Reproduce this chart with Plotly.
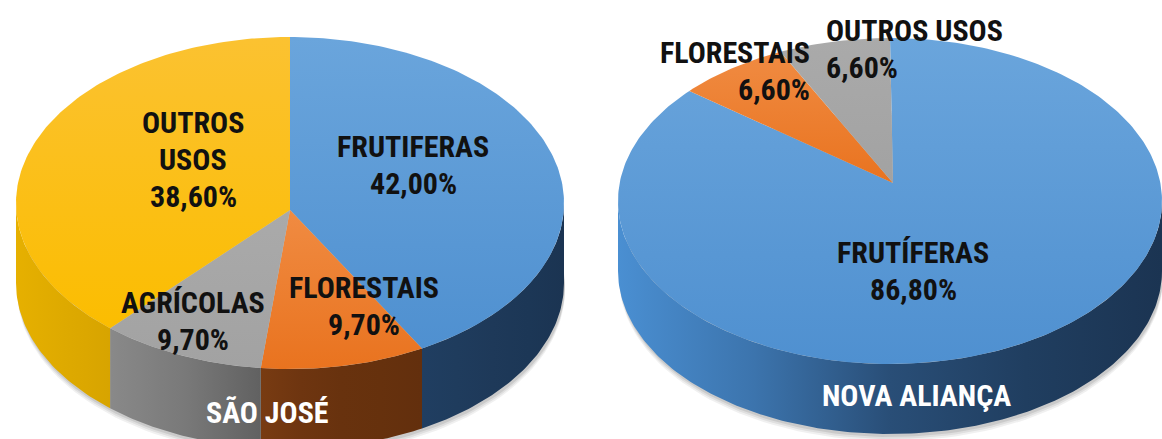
import math
import plotly.graph_objects as go

# ---------------- data ----------------
sj_labels = ["FRUTIFERAS", "FLORESTAIS", "AGRÍCOLAS", "OUTROS USOS"]
sj_values = [42.0, 9.7, 9.7, 38.6]
na_labels = ["FRUTÍFERAS", "FLORESTAIS", "OUTROS USOS"]
na_values = [86.8, 6.6, 6.6]
titles = ["SÃO JOSÉ", "NOVA ALIANÇA"]

# ---------------- styles ----------------
TOP = {"FRUTIFERAS": ("#6aa5dc", "#4f90d0"), "FRUTÍFERAS": ("#6aa5dc", "#4f90d0"),
       "FLORESTAIS": ("#f08b42", "#e9731f"), "AGRÍCOLAS": ("#aaaaaa", "#a2a2a2"),
       "OUTROS USOS": ("#fbc231", "#fbbd00")}
SIDE = {"FRUTIFERAS": ("#4a8fd2", "#1b3452"), "FRUTÍFERAS": ("#4a8fd2", "#1b3452"),
        "FLORESTAIS": ("#a85620", "#5a2a0a"), "AGRÍCOLAS": ("#9c9c9c", "#3c3c3c"),
        "OUTROS USOS": ("#e6b000", "#9a7400")}
SIDE_NA_OVERRIDE = {"OUTROS USOS": ("#9c9c9c", "#3c3c3c")}
TOP_NA_OVERRIDE = {"OUTROS USOS": ("#aaaaaa", "#a2a2a2")}

FONT = "Liberation Sans Narrow, Roboto Condensed, Arial Narrow, DejaVu Sans Condensed, sans-serif"
FSIZE = 30
LINE = 37

W, H = 1162, 439


def hex2rgb(h):
    h = h.lstrip("#")
    return tuple(int(h[i:i + 2], 16) for i in (0, 2, 4))


def mix(c0, c1, t):
    a, b = hex2rgb(c0), hex2rgb(c1)
    return "rgb(%d,%d,%d)" % tuple(round(a[i] + (b[i] - a[i]) * t) for i in range(3))


def darkness(f):
    pts = [(0, 0), (0.3, 0.35), (0.55, 0.8), (1, 1)]
    for (x0, y0), (x1, y1) in zip(pts, pts[1:]):
        if f <= x1:
            return y0 + (y1 - y0) * (f - x0) / (x1 - x0)
    return 1


def ell(g, th):
    r = math.radians(th)
    return g["cx"] + g["rx"] * math.sin(r), g["cy"] - g["ry"] * math.cos(r)


def arc(g, a, b, dy=0, n=None):
    n = n or max(4, int(abs(b - a)) + 1)
    xs, ys = [], []
    for i in range(n + 1):
        x, y = ell(g, a + (b - a) * i / n)
        xs.append(x)
        ys.append(y + dy)
    return xs, ys


fig = go.Figure()


def add_pie(labels, values, g, top_over=None, side_over=None):
    top_over = top_over or {}
    side_over = side_over or {}
    total = sum(values)
    bounds = []
    acc = 0
    for v in values:
        a = acc / total * 360
        acc += v
        bounds.append((a, acc / total * 360))
    # shadow
    for k, op in [(7, 0.06), (5, 0.07), (3, 0.09)]:
        xs, ys = arc(g, 0, 360, dy=g["depth"] + k, n=180)
        xs = [x + 1 for x in xs]
        fig.add_trace(go.Scatter(x=xs, y=ys, fill="toself", mode="lines", line=dict(width=0),
                                 fillcolor="rgba(0,0,0,%s)" % op, hoverinfo="skip", showlegend=False))
    # side walls (front half: 90..270 deg)
    for lab, (a, b) in zip(labels, bounds):
        s, e = max(a, 90), min(b, 270)
        if e <= s:
            continue
        light, dark = side_over.get(lab, SIDE[lab])
        xt, yt = arc(g, s, e)
        xb, yb = arc(g, s, e, dy=g["depth"])
        xs = xt + xb[::-1] + [xt[0]]
        ys = yt + yb[::-1] + [yt[0]]
        x0, x1 = min(xs), max(xs)
        left = g["cx"] - g["rx"]
        cs = []
        for t in (0, 0.25, 0.5, 0.75, 1):
            f = (x0 + (x1 - x0) * t - left) / (2 * g["rx"])
            cs.append([t, mix(light, dark, darkness(f))])
        fig.add_trace(go.Scatter(x=xs, y=ys, fill="toself", mode="lines", line=dict(width=0),
                                 fillcolor=cs[2][1],
                                 fillgradient=dict(type="horizontal", colorscale=cs),
                                 hoverinfo="skip", showlegend=False))
    # top surface
    for lab, v, (a, b) in zip(labels, values, bounds):
        c_top, c_bot = top_over.get(lab, TOP[lab])
        xa, ya = arc(g, a, b)
        xs = [g["ax"]] + xa + [g["ax"]]
        ys = [g["ay"]] + ya + [g["ay"]]
        fig.add_trace(go.Scatter(x=xs, y=ys, fill="toself", mode="lines", line=dict(width=0),
                                 fillcolor=c_bot,
                                 fillgradient=dict(type="vertical", colorscale=[[0, c_bot], [1, c_top]]),
                                 name=lab, hoverinfo="skip", showlegend=False))


geo_sj = dict(cx=290, cy=203, rx=274, ry=166, depth=80, ax=290, ay=210)
geo_na = dict(cx=890, cy=201, rx=272, ry=163, depth=70, ax=893, ay=183)

add_pie(sj_labels, sj_values, geo_sj)
add_pie(na_labels, na_values, geo_na, TOP_NA_OVERRIDE, SIDE_NA_OVERRIDE)


def pct(v):
    return ("%.2f" % v).replace(".", ",") + "%"


def ann(lines, x, y_first, xanchor="center", color="#111111"):
    for i, t in enumerate(lines):
        fig.add_annotation(x=x, y=y_first + i * LINE, xref="x", yref="y", text=t, showarrow=False,
                           xanchor=xanchor, yanchor="middle",
                           font=dict(family=FONT, size=FSIZE, color=color, weight="bold"))


# São José labels
ann([sj_labels[0], pct(sj_values[0])], 413, 146)
ann([sj_labels[1], pct(sj_values[1])], 364, 287)
ann([sj_labels[2], pct(sj_values[2])], 193, 302)
ann(["OUTROS", "USOS", pct(sj_values[3])], 193, 122)
ann([titles[0]], 267, 412, color="white")

# Nova Aliança labels
ann([na_labels[0], pct(na_values[0])], 913, 252)
ann([na_labels[1], pct(na_values[1])], 812, 52, xanchor="right")
ann([na_labels[2], pct(na_values[2])], 824, 30, xanchor="left")
ann([titles[1]], 916, 395, color="white")

fig.update_layout(width=W, height=H, margin=dict(l=0, r=0, t=0, b=0),
                  paper_bgcolor="white", plot_bgcolor="white",
                  xaxis=dict(range=[0, W], visible=False, fixedrange=True),
                  yaxis=dict(range=[H, 0], visible=False, fixedrange=True),
                  showlegend=False)

fig.write_html("out.html")
